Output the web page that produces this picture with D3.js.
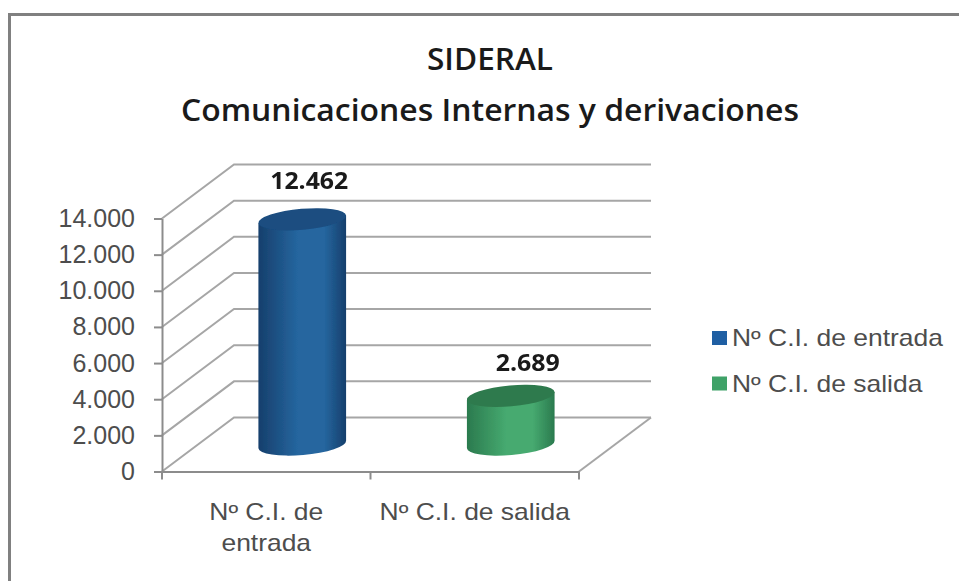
<!DOCTYPE html>
<html>
<head>
<meta charset="utf-8">
<script src="https://cdnjs.cloudflare.com/ajax/libs/d3/7.8.5/d3.min.js"></script>
<style>
  html, body { margin: 0; padding: 0; background: #fff; }
  svg { display: block; }
</style>
</head>
<body>
<div id="wrapper"></div>
<script>
const titleLines = ["SIDERAL", "Comunicaciones Internas y derivaciones"];
const categories = ["Nº C.I. de entrada", "Nº C.I. de salida"];
const categoryLines = [["Nº C.I. de", "entrada"], ["Nº C.I. de salida"]];
const values = [12462, 2689];
const valueLabels = ["12.462", "2.689"];
const yTicks = [0, 2000, 4000, 6000, 8000, 10000, 12000, 14000];
const sideColors = [["#163f6c", "#25669f"], ["#2b7a4e", "#46aa70"]];
const topColors = ["#1a4d80", "#2f7a4d"];
const legendColors = ["#1f5fa3", "#3fa268"];

const width = 959;
const height = 581;
const floor = { left: 162, right: 579, bottom: 471.5 };
const depth = { x: 72, y: -54 };
// the picture is stretched sideways, so the text has to be too
const stretch = 1.15;

const svg = d3.select("#wrapper")
  .append("svg")
    .attr("width", width)
    .attr("height", height)
    .attr("viewBox", "0 0 " + width + " " + height);

const defs = svg.append("defs");
defs.append("filter")
    .attr("id", "soft")
  .append("feGaussianBlur")
    .attr("stdDeviation", 0.6);

sideColors.forEach((c, i) => {
  const grad = defs.append("linearGradient").attr("id", "side" + i);
  grad.append("stop").attr("offset", "0%").attr("stop-color", c[0]);
  grad.append("stop").attr("offset", "45%").attr("stop-color", c[1]);
  grad.append("stop").attr("offset", "75%").attr("stop-color", c[1]);
  grad.append("stop").attr("offset", "100%").attr("stop-color", c[0]);
});

// Scales
const y = d3.scaleLinear().domain([0, 14000]).range([floor.bottom, 218.5]);
const x = d3.scaleBand().domain(categories).range([floor.left, floor.right]);

// Frame, open at the right and bottom edges of the picture
svg.append("path")
    .attr("d", "M9.5 " + height + "V14.5H" + width)
    .attr("fill", "none")
    .attr("stroke", "#808080")
    .attr("stroke-width", 3);

// Title
svg.append("g")
  .selectAll("text")
  .data(titleLines)
  .join("text")
    .attr("x", 490)
    .attr("y", (d, i) => 70 + i * 51)
    .attr("text-anchor", "middle")
    .attr("font-family", "'Open Sans', sans-serif")
    .attr("font-weight", 600)
    .attr("font-size", 30)
    .attr("textLength", (d, i) => i ? 618 : 126)
    .attr("lengthAdjust", "spacingAndGlyphs")
    .attr("fill", "#1a1a1a")
    .text(d => d);

// Walls and gridlines
const grid = svg.append("g")
  .attr("fill", "none")
  .attr("stroke", "#a6a6a6")
  .attr("stroke-width", 2);

grid.selectAll("path")
  .data(yTicks)
  .join("path")
    .attr("d", d => "M" + floor.left + " " + y(d)
      + "L" + (floor.left + depth.x) + " " + (y(d) + depth.y)
      + "H" + (floor.right + depth.x));

grid.append("path")
    .attr("d", "M" + floor.right + " " + floor.bottom
      + "L" + (floor.right + depth.x) + " " + (floor.bottom + depth.y));

// Axes
const yAxis = svg.append("g")
  .attr("transform", "translate(" + floor.left + ",0)")
  .call(d3.axisLeft(y).tickValues(yTicks).tickSize(8).tickSizeOuter(0)
    .tickFormat(d => d3.format(",")(d).replace(",", ".")));

const xAxis = svg.append("g")
  .attr("transform", "translate(0," + floor.bottom + ")")
  .call(d3.axisBottom(x).tickValues([]).tickSizeOuter(0));

[0, 1, 2].forEach(i => {
  xAxis.append("line")
    .attr("x1", floor.left + i * x.bandwidth())
    .attr("x2", floor.left + i * x.bandwidth())
    .attr("y2", 8)
    .attr("stroke", "#8c8c8c")
    .attr("stroke-width", 2);
});

svg.selectAll(".domain, .tick line")
    .attr("stroke", "#8c8c8c")
    .attr("stroke-width", 2);

yAxis.selectAll("text")
    .attr("x", -27)
    .attr("font-family", "'Liberation Sans', sans-serif")
    .attr("font-size", 25)
    .attr("fill", "#4d4d4d");

// Category labels
const catLabels = svg.append("g")
  .selectAll("text")
  .data(categories)
  .join("text")
    .attr("text-anchor", "middle")
    .attr("font-family", "'Liberation Sans', sans-serif")
    .attr("font-size", 23)
    .attr("fill", "#4d4d4d")
    .attr("transform", d => "translate(" + (x(d) + x.bandwidth() / 2) + ",520) scale(" + stretch + ",1)");

catLabels.selectAll("tspan")
  .data((d, i) => categoryLines[i])
  .join("tspan")
    .attr("x", 0)
    .attr("dy", (d, i) => i * 31)
    .text(d => d);

// Cylinders
const rx = 44;
const ry = 10.5;
const tilt = -5;
const tiltRad = tilt * Math.PI / 180;
const dx = rx * Math.cos(tiltRad);
const dy = rx * Math.sin(tiltRad);
const baseOffset = { x: 36, y: depth.y / 2 };

const bars = svg.append("g")
  .attr("filter", "url(#soft)")
  .selectAll("g")
  .data(categories)
  .join("g");

const cx = d => x(d) + x.bandwidth() / 2 + baseOffset.x;
const topY = (d, i) => y(values[i]) + baseOffset.y;
const baseY = floor.bottom + baseOffset.y;

bars.append("path")
    .attr("fill", (d, i) => "url(#side" + i + ")")
    .attr("d", (d, i) => {
      const arc = "A" + rx + " " + ry + " " + tilt + " 0 0 ";
      return "M" + (cx(d) - dx) + " " + (topY(d, i) - dy)
        + "L" + (cx(d) - dx) + " " + (baseY - dy)
        + arc + (cx(d) + dx) + " " + (baseY + dy)
        + "L" + (cx(d) + dx) + " " + (topY(d, i) + dy)
        + "Z";
    });

bars.append("ellipse")
    .attr("rx", rx)
    .attr("ry", ry)
    .attr("fill", (d, i) => topColors[i])
    .attr("transform", (d, i) => "translate(" + cx(d) + "," + topY(d, i) + ") rotate(" + tilt + ")");

// Value labels, the Excel ones sit a bit off the cylinder centre
svg.append("g")
  .selectAll("text")
  .data(categories)
  .join("text")
    .attr("x", (d, i) => cx(d) + (i ? 17 : 7))
    .attr("y", (d, i) => topY(d, i) - (i ? 25 : 30))
    .attr("text-anchor", "middle")
    .attr("font-family", "'Open Sans', sans-serif")
    .attr("font-weight", 700)
    .attr("font-size", 23)
    .attr("textLength", (d, i) => i ? 64 : 78)
    .attr("lengthAdjust", "spacingAndGlyphs")
    .attr("fill", "#1a1a1a")
    .text((d, i) => valueLabels[i]);

// Legend
const legend = svg.append("g")
  .selectAll("g")
  .data(categories)
  .join("g")
    .attr("transform", (d, i) => "translate(712," + (331 + i * 45.5) + ")");

legend.append("rect")
    .attr("width", 15)
    .attr("height", 14)
    .attr("fill", (d, i) => legendColors[i]);

legend.append("text")
    .attr("font-family", "'Liberation Sans', sans-serif")
    .attr("font-size", 23)
    .attr("fill", "#4d4d4d")
    .attr("transform", "translate(20,15) scale(" + stretch + ",1)")
    .text(d => d);
</script>
</body>
</html>
